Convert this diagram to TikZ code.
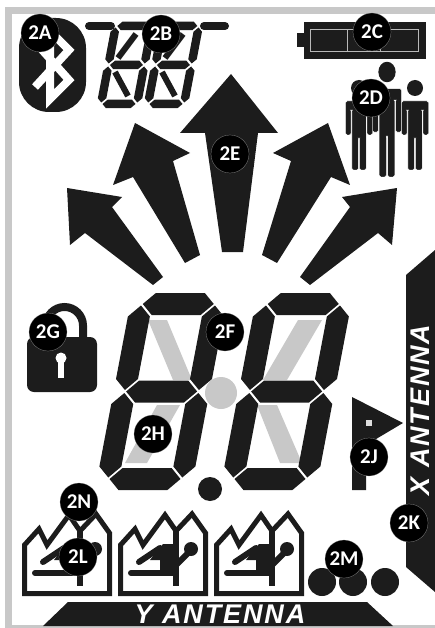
\documentclass[tikz,border=0pt]{standalone}
\usepackage{fontspec}
\setmainfont{Liberation Sans}
\newfontfamily\calloutfont{Carlito}
\newfontfamily\antennafont{Liberation Sans}[LetterSpace=7]
\usetikzlibrary{calc}
\definecolor{lcdblack}{RGB}{28,28,28}
\definecolor{lcdgrey}{RGB}{200,200,200}

% one slanted digit: x, y of lower left, width, half height, thickness
\newcommand{\segdigit}[5]{%
  \begin{scope}[shift={(#1,#2)},xslant=0.19]
    \foreach \yy in {0,-#4,-2*#4} {
      \fill[seg] (1.5,{\yy}) -- ({1.5+#5/2},{\yy-#5/2}) -- ({#3-1.5-#5/2},{\yy-#5/2})
        -- ({#3-1.5},{\yy}) -- ({#3-1.5-#5/2},{\yy+#5/2}) -- ({1.5+#5/2},{\yy+#5/2}) -- cycle;
    }
    \foreach \xx in {0,#3} \foreach \yy in {0,-#4} {
      \fill[seg] ({\xx},{\yy-1.5}) -- ({\xx+#5/2},{\yy-1.5-#5/2}) -- ({\xx+#5/2},{\yy-#4+1.5+#5/2})
        -- ({\xx},{\yy-#4+1.5}) -- ({\xx-#5/2},{\yy-#4+1.5+#5/2}) -- ({\xx-#5/2},{\yy-1.5-#5/2}) -- cycle;
    }
  \end{scope}
}

\begin{document}
\begin{tikzpicture}[
    x=1pt, y=-1pt,
    seg/.style={fill=lcdblack},
    lcd/.style={fill=lcdblack},
    faint/.style={fill=lcdgrey},
    callout/.style={circle, fill=black, draw=gray!70, very thin, minimum size=38pt, inner sep=0pt,
        text=white, font=\calloutfont\bfseries\fontsize{21}{21}\selectfont},
    antenna/.style={text=white, inner sep=0pt, font=\antennafont\bfseries\itshape\fontsize{27}{27}\selectfont},
    person/.pic={
        \fill[lcd] (0,0) circle (8);
        \fill[lcd, draw=white, line width=0.4pt, rounded corners=1.5pt] (-13.5,13) -- (13.5,13) -- (13.5,47) -- (8,47) -- (8,22) -- (7.2,22)
            -- (7.2,82) -- (0.7,82) -- (0.7,50) -- (-0.7,50) -- (-0.7,82) -- (-7.2,82) -- (-7.2,22)
            -- (-8,22) -- (-8,47) -- (-13.5,47) -- cycle;
    },
    factory/.pic={
        \draw[lcdblack, line width=5pt, line join=miter] (2.5,-2.5) -- (2.5,-51) -- (17,-67) -- (25,-51)
            -- (47,-81) -- (58,-65) -- (74,-82) -- (87.5,-63) -- (87.5,-2.5) -- cycle;
        \draw[lcdblack, line width=5.5pt] (58,-65) -- (58,-10);
        \draw[lcdblack, line width=6pt, line cap=round] (13,-23) -- (55,-23);
        \draw[lcdblack, line width=6pt, line cap=round] (21,-34) -- (42,-48);
        \fill[lcd] (32,-36) -- (45,-52) -- (58,-52) -- (58,-23) -- (42,-23) -- (42,-36) -- cycle;
        \draw[lcdblack, line width=6pt] (58,-31) -- (73,-46);
        \fill[lcd] (73,-47) circle (7);
    }
]
\useasboundingbox (0,0) rectangle (435,628);

% === FRAME ===
\fill[faint] (5,7) rectangle (435,14);
\fill[faint] (5,7) rectangle (12,628);
\fill[faint] (5,625) rectangle (435,628);

% === BLUETOOTH ===
\fill[lcd, rounded corners=30pt] (19,18) rectangle (86,112);
\draw[white, line width=8pt, line join=miter] (35,42) -- (69,80) -- (50,99) -- (50,31) -- (69,50) -- (35,87);

% === SMALL DIGITS ===
\segdigit{101}{104}{36}{39}{8.5}
\segdigit{148}{104}{36}{39}{8.5}
\foreach \ox in {0,47} {
    \draw[lcdblack, line width=6pt] ({118+\ox},58) -- ({136+\ox},34);
    \draw[lcdblack, line width=6pt] ({115+\ox},72) -- ({128+\ox},96);
}
\draw[lcdblack, line width=8pt, line cap=round] (89,26) -- (111,26);
\draw[lcdblack, line width=8pt, line cap=round] (204,26) -- (225,26);

% === BATTERY ===
\fill[lcd] (304,22) rectangle (426,59);
\fill[lcd] (297,33) rectangle (304,47);
\foreach \xa/\xb in {310/347,347/380,380/418}
    \draw[lcdgrey!80!gray, line width=1pt] (\xa,30) rectangle (\xb,52);

% === PEOPLE ===
\pic[xscale=1.08, yscale=1.28] at (387,72) {person};
\pic at (359,88) {person};
\pic at (415,88) {person};

% === ARROWS ===
\fill[lcd] (231,74) -- (278,133) -- (258,133) -- (243,252) -- (222,252) -- (205,133) -- (180,133) -- cycle;
\fill[lcd] (135,123) -- (190,153) -- (173,161) -- (200,255) -- (185,263) -- (133,177) -- (113,185) -- cycle;
\fill[lcd] (328,123) -- (350,185) -- (331,177) -- (277,263) -- (262,255) -- (291,161) -- (273,153) -- cycle;
\fill[lcd] (67,188) -- (122,197) -- (112,207) -- (163,277) -- (153,285) -- (85,233) -- (70,245) -- cycle;
\fill[lcd] (397,188) -- (392,245) -- (378,233) -- (310,285) -- (300,277) -- (350,207) -- (342,197) -- cycle;

% === BIG DIGITS ===
\fill[faint] (148,320) -- (167,320) -- (192,380) -- (173,380) -- cycle;
\fill[faint] (157,405) -- (180,405) -- (147,463) -- (125,463) -- cycle;
\fill[faint] (298,320) -- (322,320) -- (287,380) -- (263,380) -- cycle;
\fill[faint] (257,405) -- (277,405) -- (302,463) -- (280,463) -- cycle;
\fill[faint] (221,393) circle (16);
\segdigit{108}{479}{74}{87.5}{22}
\segdigit{233}{479}{74}{87.5}{22}
\fill[lcd] (210,489) circle (12);

% === LOCK ===
\draw[lcdblack, line width=8pt] (46,340) -- (46,325.5) arc (180:360:18.5) -- (83,340);
\fill[lcd, rounded corners=7pt] (27,337) rectangle (97,392);
\fill[white] (61,358) circle (5.5);
\fill[white] (58,358) rectangle (64,378);

% === FLAG ===
\fill[lcd] (352,397) -- (403,423) -- (366,445) -- (366,490) -- (352,490) -- cycle;
\fill[lcdgrey!60!white] (366,420) rectangle (372,426);

% === X ANTENNA ===
\fill[lcd] (435,250) -- (406,275) -- (406,567) -- (435,592) -- cycle;
\node[antenna, rotate=90] (xant) at (420,410) {X ANTENNA};

% === FACTORIES AND DOTS ===
\pic at (22,596) {factory};
\pic at (118,596) {factory};
\pic at (214,596) {factory};
\foreach \cx in {322,353,385}
    \fill[lcd] (\cx,582) circle (14);

% === Y ANTENNA ===
\fill[lcd] (43,626) -- (68,602) -- (367,602) -- (393,626) -- cycle;
\node[antenna] (yant) at (220,614) {Y ANTENNA};

% === CALLOUTS ===
\node[callout] (a) at (40,33) {2A};
\node[callout] (b) at (161,34) {2B};
\node[callout] (c) at (372,32) {2C};
\node[callout] (d) at (371,98) {2D};
\node[callout] (e) at (230,154) {2E};
\node[callout] (f) at (225,332) {2F};
\node[callout] (g) at (48,332) {2G};
\node[callout] (h) at (153,434) {2H};
\node[callout] (j) at (369,457) {2J};
\node[callout] (k) at (409,523) {2K};
\node[callout] (l) at (78,557) {2L};
\node[callout] (m) at (344,559) {2M};
\node[callout] (n) at (79,502) {2N};

\end{tikzpicture}
\end{document}
